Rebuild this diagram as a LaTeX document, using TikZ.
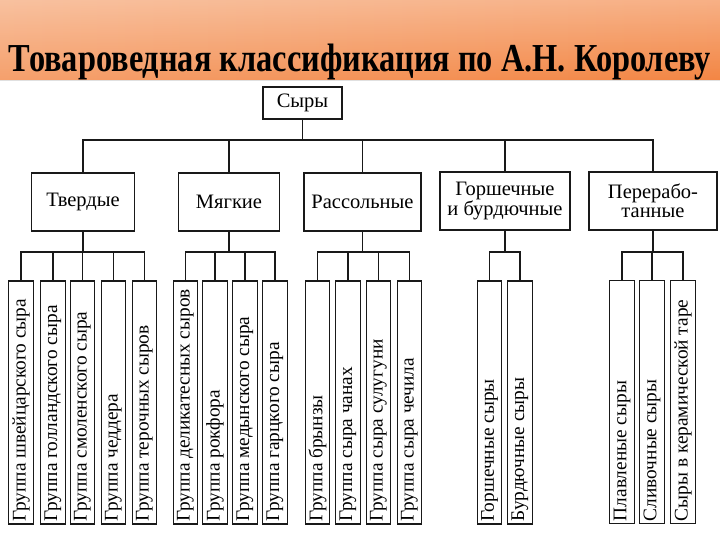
\documentclass[tikz,border=0pt]{standalone}
\usepackage{fontspec}
\setmainfont{Liberation Serif}
\usepackage{graphicx}
\usetikzlibrary{fadings}
\definecolor{bandL}{RGB}{245,160,108}
\definecolor{bandR}{RGB}{243,134,68}
\definecolor{ink}{RGB}{25,25,25}
\tikzfading[name=fadedown, top color=transparent!65, bottom color=transparent!100]
\tikzset{
  box/.style={draw=ink, line width=1.4pt, fill=white, inner sep=0pt, align=center, font=\fontsize{20.5}{18.5}\selectfont},
  leaf/.style={draw=ink, line width=1.4pt, fill=white, inner sep=0pt, minimum width=24.5pt, minimum height=243pt},
  conn/.style={draw=ink, line width=1.4pt},
}
\newcommand{\leaftext}[1]{\rotatebox{90}{\makebox[238pt][l]{\fontsize{19.3}{21}\selectfont\vphantom{Гр}#1}}}
\newcommand{\titletext}{\resizebox{702pt}{27.5pt}{\bfseries Товароведная классификация по А.Н. Королеву}}
\begin{document}
\begin{tikzpicture}[x=1pt,y=-1pt]
\useasboundingbox (0,0) rectangle (720,540);
\fill[white] (0,0) rectangle (720,540);
\shade[left color=bandL, right color=bandR] (0,0) rectangle (720,80);
\fill[white, path fading=fadedown] (0,0) rectangle (720,80);
\draw[black!12, line width=1pt] (0,81) -- (720,81);
% title
\node[anchor=base, inner sep=0pt, text=black] (title) at (360,72) {\titletext};
% root
\node[box, minimum width=79pt, minimum height=32pt] (syry) at (302.5,103) {Сыры};
% categories
\node[box, minimum width=103pt, minimum height=58pt] (tv) at (83,202) {Твердые};
\node[box, minimum width=101pt, minimum height=58pt] (mg) at (229,202) {Мягкие};
\node[box, minimum width=117pt, minimum height=58pt] (ras) at (362.5,202) {Рассольные};
\node[box, minimum width=130pt, minimum height=58pt] (gor) at (505,201) {Горшечные\\и бурдючные};
\node[box, minimum width=128pt, minimum height=58pt] (per) at (653,201) {Перерабо-\\танные};
\coordinate (bus) at (0,140);
\coordinate (sb) at (0,252);
\draw[conn] (syry.south) -- (syry.south |- bus);
\draw[conn] (tv.north) |- (syry.south |- bus) -| (per.north);
\draw[conn] (mg.north) -- (mg.north |- bus);
\draw[conn] (ras.north) -- (ras.north |- bus);
\draw[conn] (gor.north) -- (gor.north |- bus);
% leaves
\node[leaf] (l1) at (21,402.5) {\leaftext{Группа швейцарского сыра}};
\node[leaf] (l2) at (53,402.5) {\leaftext{Группа голландского сыра}};
\node[leaf] (l3) at (82.5,402.5) {\leaftext{Группа смоленского сыра}};
\node[leaf] (l4) at (113.5,402.5) {\leaftext{Группа чеддера}};
\node[leaf] (l5) at (144.5,402.5) {\leaftext{Группа терочных сыров}};
\node[leaf] (l6) at (185.5,402.5) {\leaftext{Группа деликатесных сыров}};
\node[leaf] (l7) at (215,402.5) {\leaftext{Группа рокфора}};
\node[leaf] (l8) at (245,402.5) {\leaftext{Группа медынского сыра}};
\node[leaf] (l9) at (275,402.5) {\leaftext{Группа гарцкого сыра}};
\node[leaf] (l10) at (317.5,402.5) {\leaftext{Группа брынзы}};
\node[leaf] (l11) at (348,402.5) {\leaftext{Группа сыра чанах}};
\node[leaf] (l12) at (378.5,402.5) {\leaftext{Группа сыра сулугуни}};
\node[leaf] (l13) at (409.5,402.5) {\leaftext{Группа сыра чечила}};
\node[leaf] (l14) at (489.5,402.5) {\leaftext{Горшечные сыры}};
\node[leaf] (l15) at (520,402.5) {\leaftext{Бурдючные сыры}};
\node[leaf] (l16) at (622,402) {\leaftext{Плавленые сыры}};
\node[leaf] (l17) at (652,402) {\leaftext{Сливочные сыры}};
\node[leaf] (l18) at (683,402) {\leaftext{Сыры в керамической таре}};
% group connectors
\draw[conn] (tv.south) -- (tv.south |- sb);
\draw[conn] (l1.north) |- (tv.south |- sb) -| (l5.north);
\foreach \n in {l2,l3,l4} \draw[conn] (\n.north) -- (\n.north |- sb);
\draw[conn] (mg.south) -- (mg.south |- sb);
\draw[conn] (l6.north) |- (mg.south |- sb) -| (l9.north);
\foreach \n in {l7,l8} \draw[conn] (\n.north) -- (\n.north |- sb);
\draw[conn] (ras.south) -- (ras.south |- sb);
\draw[conn] (l10.north) |- (ras.south |- sb) -| (l13.north);
\foreach \n in {l11,l12} \draw[conn] (\n.north) -- (\n.north |- sb);
\draw[conn] (gor.south) -- (gor.south |- sb);
\draw[conn] (l14.north) |- (gor.south |- sb) -| (l15.north);
\draw[conn] (per.south) -- (per.south |- sb);
\draw[conn] (l16.north) |- (per.south |- sb) -| (l18.north);
\draw[conn] (l17.north) -- (l17.north |- sb);
\end{tikzpicture}
\end{document}
